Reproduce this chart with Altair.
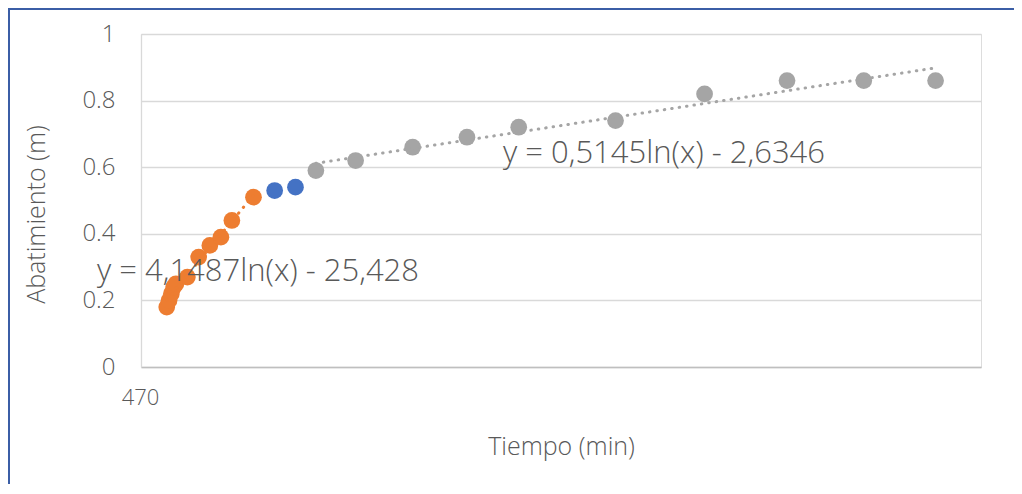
import altair as alt
import pandas as pd

# ---- data ----
orange_t = [481, 482, 483, 484, 485, 490, 495, 500, 505, 510, 520]
orange_s = [0.18, 0.20, 0.22, 0.24, 0.25, 0.27, 0.33, 0.365, 0.39, 0.44, 0.51]
blue_t = [530, 540]
blue_s = [0.53, 0.54]
gray_t = [550, 570, 600, 630, 660, 720, 780, 840, 900, 960]
gray_s = [0.59, 0.62, 0.66, 0.69, 0.72, 0.74, 0.82, 0.86, 0.86, 0.86]
x_ticks = [470]
y_ticks = [0, 0.2, 0.4, 0.6, 0.8, 1]
eq_orange = "y = 4,1487ln(x) - 25,428"
eq_gray = "y = 0,5145ln(x) - 2,6346"

ORANGE = "#ED7D31"
BLUE = "#4472C4"
GRAY = "#A5A5A5"
TXT = "#595959"
FONT = "Open Sans"

W, H = 840, 333

df_o = pd.DataFrame({"t": orange_t, "s": orange_s})
df_b = pd.DataFrame({"t": blue_t, "s": blue_s})
df_g = pd.DataFrame({"t": gray_t, "s": gray_s})

xscale = alt.Scale(type="log", domain=[470, 1000], nice=False)
yscale = alt.Scale(domain=[0, 1], nice=False)

xaxis = alt.Axis(
    values=x_ticks, grid=False, ticks=False, domain=True,
    domainColor="#BFBFBF", domainWidth=1.5,
    labelFontSize=22, labelColor=TXT, labelFont=FONT, labelFontWeight=300,
    labelPadding=20, labelOffset=-1, labelFlush=False,
    title="Tiempo (min)", titleFontSize=25, titleColor=TXT, titleFont=FONT,
    titleFontWeight=300, titleY=87, titleBaseline="alphabetic",
)
yaxis = alt.Axis(
    values=y_ticks, format="~g", grid=True, gridColor="#D9D9D9", gridWidth=1.3,
    ticks=False, domain=True, domainColor="#D9D9D9", domainWidth=1.3,
    labelFontSize=24, labelColor=TXT, labelFont=FONT, labelFontWeight=300,
    labelPadding=26,
    title="Abatimiento (m)", titleFontSize=25, titleColor=TXT, titleFont=FONT,
    titleFontWeight=300, titleX=-105, titleY=180, titleBaseline="middle",
)

x_enc = alt.X("t:Q", scale=xscale, axis=xaxis)
y_enc = alt.Y("s:Q", scale=yscale, axis=yaxis)
x_na = alt.X("t:Q", scale=xscale)
y_na = alt.Y("s:Q", scale=yscale)

MSIZE = 280

pts_o = alt.Chart(df_o).mark_point(filled=True, size=MSIZE, opacity=1, color=ORANGE).encode(x=x_enc, y=y_enc)
pts_b = alt.Chart(df_b).mark_point(filled=True, size=MSIZE, opacity=1, color=BLUE).encode(x=x_na, y=y_na)
pts_g = alt.Chart(df_g).mark_point(filled=True, size=MSIZE, opacity=1, color=GRAY).encode(x=x_na, y=y_na)

trend_o = alt.Chart(df_o).transform_regression("t", "s", method="log").mark_line(
    color=ORANGE, strokeWidth=3, strokeDash=[0.5, 7], strokeCap="round"
).encode(x=x_na, y=y_na)
trend_g = alt.Chart(df_g).transform_regression("t", "s", method="log").mark_line(
    color=GRAY, strokeWidth=3, strokeDash=[0.5, 7], strokeCap="round"
).encode(x=x_na, y=y_na)

one = pd.DataFrame({"k": [0]})
lab_o = alt.Chart(one).mark_text(
    text=eq_orange, align="left", baseline="alphabetic", fontSize=31,
    font=FONT, fontWeight=300, color=TXT
).encode(x=alt.value(-44), y=alt.value(247))
lab_g = alt.Chart(one).mark_text(
    text=eq_gray, align="left", baseline="alphabetic", fontSize=31,
    font=FONT, fontWeight=300, color=TXT
).encode(x=alt.value(362), y=alt.value(129))

FRAME = "#3B5EA6"
frame_left = alt.Chart(one).mark_rule(color=FRAME, strokeWidth=2).encode(
    x=alt.value(-132), y=alt.value(-26), y2=alt.value(H + 120)
)
frame_top = alt.Chart(one).mark_rule(color=FRAME, strokeWidth=2).encode(
    y=alt.value(-25), x=alt.value(-133), x2=alt.value(W + 40)
)

chart = alt.layer(
    pts_o, pts_b, pts_g, trend_o, trend_g, lab_o, lab_g, frame_left, frame_top
).properties(
    width=W, height=H,
    autosize=alt.AutoSizeParams(type="none"),
    padding={"left": 133, "top": 26, "right": 33, "bottom": 117},
).configure_view(stroke=None).configure(background="white")

chart.save("out.html", embed_options={"renderer": "svg", "actions": False})
